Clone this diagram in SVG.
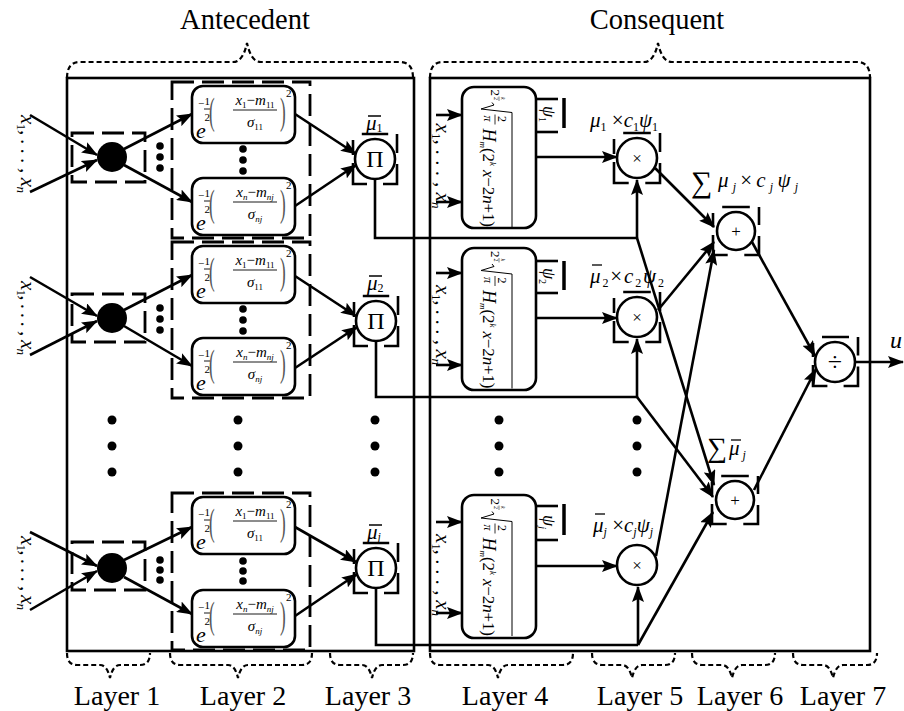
<svg xmlns="http://www.w3.org/2000/svg" width="904" height="711" viewBox="0 0 904 711">
<defs>
<style>
.ln{fill:none;stroke:#000;stroke-width:2.6}
.bx{fill:#fff;stroke:#000;stroke-width:2.6}
.dsh{fill:none;stroke:#000;stroke-width:2.8;stroke-dasharray:22 8}
.brace{fill:none;stroke:#000;stroke-width:2.2;stroke-dasharray:5 3}
.brk{fill:none;stroke:#000;stroke-width:2.6}
.fb{stroke:#000;stroke-width:0.9}
.t{font-family:"Liberation Serif","Times New Roman",serif;fill:#000}
.i{font-style:italic}
.n{font-style:normal}
.lab{font-size:28px}
.par{fill:#555}
</style>
<marker id="ah" viewBox="0 0 16 12" refX="15" refY="6" markerWidth="16" markerHeight="12" markerUnits="userSpaceOnUse" orient="auto"><path d="M0,0 L16,6 L0,12 L3,6 z" fill="#000"/></marker>
</defs>
<rect width="904" height="711" fill="#fff"/>

<g id="titles">
<text class="t" x="245" y="29" font-size="28.5" text-anchor="middle">Antecedent</text>
<text class="t" x="657" y="29" font-size="28.5" text-anchor="middle">Consequent</text>
<path class="brace" d="M67,78 Q67,62 80,62 H233 Q243,62 247,43 Q251,62 261,62 H400 Q413,62 413,78"/>
<path class="brace" d="M430,78 Q430,62 443,62 H644 Q654,62 658,43 Q662,62 672,62 H857 Q870,62 870,78"/>
</g>
<g id="layer-labels">
<path class="brace" d="M67,653 Q67,665 77,665 H100 Q107,665 110,678 Q113,665 120,665 H140 Q150,665 150,653"/>
<path class="brace" d="M170,653 Q170,665 180,665 H228 Q235,665 238,678 Q241,665 248,665 H302 Q312,665 312,653"/>
<path class="brace" d="M330,653 Q330,665 340,665 H362 Q369,665 372,678 Q375,665 382,665 H403 Q413,665 413,653"/>
<path class="brace" d="M430,653 Q430,665 440,665 H488 Q495,665 498,678 Q501,665 508,665 H563 Q573,665 573,653"/>
<path class="brace" d="M592,653 Q592,665 602,665 H622 Q629,665 632,678 Q635,665 642,665 H665 Q675,665 675,653"/>
<path class="brace" d="M692,653 Q692,665 702,665 H722 Q729,665 732,678 Q735,665 742,665 H765 Q775,665 775,653"/>
<path class="brace" d="M793,653 Q793,665 803,665 H823 Q830,665 833,678 Q836,665 843,665 H867 Q877,665 877,653"/>
<text class="t lab" x="117" y="705" text-anchor="middle">Layer 1</text>
<text class="t lab" x="243" y="705" text-anchor="middle">Layer 2</text>
<text class="t lab" x="368" y="705" text-anchor="middle">Layer 3</text>
<text class="t lab" x="505" y="705" text-anchor="middle">Layer 4</text>
<text class="t lab" x="640" y="705" text-anchor="middle">Layer 5</text>
<text class="t lab" x="740" y="705" text-anchor="middle">Layer 6</text>
<text class="t lab" x="843" y="705" text-anchor="middle">Layer 7</text>
</g>

<g id="antecedent-box"><rect x="67" y="78" width="347" height="573" class="ln"/></g>
<g id="consequent-box"><rect x="430" y="78" width="440" height="573" class="ln"/></g>

<g id="connectors" class="ln">
<line x1="30" y1="115" x2="97" y2="155" marker-end="url(#ah)"/>
<line x1="30" y1="192" x2="97" y2="160" marker-end="url(#ah)"/>
<line x1="30" y1="277" x2="97" y2="316" marker-end="url(#ah)"/>
<line x1="30" y1="355" x2="97" y2="321" marker-end="url(#ah)"/>
<line x1="30" y1="532" x2="97" y2="566" marker-end="url(#ah)"/>
<line x1="30" y1="610" x2="97" y2="571" marker-end="url(#ah)"/>
<line x1="124" y1="149" x2="192" y2="114" marker-end="url(#ah)"/>
<line x1="124" y1="165" x2="192" y2="202" marker-end="url(#ah)"/>
<line x1="124" y1="310" x2="192" y2="275" marker-end="url(#ah)"/>
<line x1="124" y1="326" x2="192" y2="366" marker-end="url(#ah)"/>
<line x1="124" y1="560" x2="192" y2="527" marker-end="url(#ah)"/>
<line x1="124" y1="577" x2="192" y2="614" marker-end="url(#ah)"/>
<line x1="295" y1="114" x2="356" y2="154" marker-end="url(#ah)"/>
<line x1="295" y1="206" x2="356" y2="165" marker-end="url(#ah)"/>
<line x1="295" y1="276" x2="356" y2="316" marker-end="url(#ah)"/>
<line x1="295" y1="368" x2="357" y2="327" marker-end="url(#ah)"/>
<line x1="295" y1="527" x2="356" y2="562" marker-end="url(#ah)"/>
<line x1="295" y1="616" x2="357" y2="574" marker-end="url(#ah)"/>
<polyline points="375,179 375,238 637,238"/>
<polyline points="376,341 376,397 637,397"/>
<polyline points="376,588 376,645 638,645"/>
<line x1="637" y1="238" x2="637" y2="180" marker-end="url(#ah)"/>
<line x1="637" y1="397" x2="637" y2="339" marker-end="url(#ah)"/>
<line x1="638" y1="645" x2="638" y2="587" marker-end="url(#ah)"/>
<line x1="637" y1="238" x2="714" y2="485" marker-end="url(#ah)"/>
<line x1="637" y1="397" x2="713" y2="497" marker-end="url(#ah)"/>
<line x1="638" y1="645" x2="713" y2="512" marker-end="url(#ah)"/>
<line x1="436" y1="115" x2="462" y2="115" marker-end="url(#ah)"/>
<line x1="436" y1="202" x2="462" y2="202" marker-end="url(#ah)"/>
<line x1="436" y1="273" x2="462" y2="273" marker-end="url(#ah)"/>
<line x1="436" y1="365" x2="462" y2="365" marker-end="url(#ah)"/>
<line x1="436" y1="522" x2="462" y2="522" marker-end="url(#ah)"/>
<line x1="436" y1="613" x2="462" y2="613" marker-end="url(#ah)"/>
<line x1="536" y1="157" x2="617" y2="157" marker-end="url(#ah)"/>
<line x1="536" y1="318" x2="617" y2="318" marker-end="url(#ah)"/>
<line x1="536" y1="566" x2="617" y2="566" marker-end="url(#ah)"/>
<line x1="655" y1="168" x2="714" y2="227" marker-end="url(#ah)"/>
<line x1="658" y1="310" x2="714" y2="242" marker-end="url(#ah)"/>
<line x1="656" y1="556" x2="714" y2="250" marker-end="url(#ah)"/>
<line x1="752" y1="242" x2="815" y2="356" marker-end="url(#ah)"/>
<line x1="754" y1="490" x2="816" y2="369" marker-end="url(#ah)"/>
<line x1="855" y1="362" x2="903" y2="362" marker-end="url(#ah)"/>
</g>

<g id="L1-1">
<rect x="72" y="133" width="73" height="49" class="dsh"/>
<circle cx="112" cy="157" r="15" fill="#000"/>
<circle cx="160" cy="146" r="3.8"/><circle cx="160" cy="157" r="3.8"/><circle cx="160" cy="168" r="3.8"/>
<text class="t i" transform="translate(21,154) rotate(90)" font-size="21" text-anchor="middle" textLength="78">x<tspan class="n" font-size="13" dy="4">1</tspan><tspan dy="-4">, . . . , x</tspan><tspan font-size="13" dy="4">n</tspan></text>
</g>
<g id="L1-2">
<rect x="72" y="294" width="73" height="48" class="dsh"/>
<circle cx="112" cy="318" r="15" fill="#000"/>
<circle cx="160" cy="308" r="3.8"/><circle cx="160" cy="319" r="3.8"/><circle cx="160" cy="330" r="3.8"/>
<text class="t i" transform="translate(21,318) rotate(90)" font-size="21" text-anchor="middle" textLength="74">x<tspan class="n" font-size="13" dy="4">1</tspan><tspan dy="-4">, . . . , x</tspan><tspan font-size="13" dy="4">n</tspan></text>
</g>
<g id="L1-j">
<rect x="72" y="542" width="73" height="48" class="dsh"/>
<circle cx="112" cy="568" r="15" fill="#000"/>
<circle cx="160" cy="560" r="3.8"/><circle cx="160" cy="570" r="3.8"/><circle cx="160" cy="580" r="3.8"/>
<text class="t i" transform="translate(21,573) rotate(90)" font-size="21" text-anchor="middle" textLength="74">x<tspan class="n" font-size="13" dy="4">1</tspan><tspan dy="-4">, . . . , x</tspan><tspan font-size="13" dy="4">n</tspan></text>
</g>

<g id="L2-group-1"><rect x="172" y="82" width="138" height="156" class="dsh"/>
<circle cx="243" cy="149" r="3.8"/><circle cx="243" cy="160" r="3.8"/><circle cx="243" cy="171" r="3.8"/></g>
<g id="L2-group-2"><rect x="172" y="242" width="138" height="156" class="dsh"/>
<circle cx="243" cy="309" r="3.8"/><circle cx="243" cy="320" r="3.8"/><circle cx="243" cy="331" r="3.8"/></g>
<g id="L2-group-j"><rect x="172" y="493" width="138" height="157" class="dsh"/>
<circle cx="243" cy="561" r="3.8"/><circle cx="243" cy="571" r="3.8"/><circle cx="243" cy="581" r="3.8"/></g>

<g id="mf-1-1" transform="translate(192,86)">
<rect width="103" height="57" rx="11" class="bx"/>
<text class="t i" x="4" y="52" font-size="22">e</text>
<text class="t" x="6" y="21" font-size="11">−</text>
<text class="t" x="12.5" y="19" font-size="11">1</text><line x1="12" y1="23" x2="18" y2="23" class="fb"/><text class="t" x="12.5" y="35" font-size="11">2</text>
<text class="t par" transform="translate(17,38) scale(0.45,1)" font-size="38">(</text>
<text class="t i" x="63" y="19" font-size="15" text-anchor="middle">x<tspan class="n" font-size="9" dy="3">1</tspan><tspan class="n" dy="-3">−</tspan>m<tspan class="n" font-size="9" dy="3">11</tspan></text>
<line x1="41" y1="24" x2="85" y2="24" class="fb"/>
<text class="t i" x="63" y="41" font-size="15" text-anchor="middle">σ<tspan class="n" font-size="9" dy="3">11</tspan></text>
<text class="t par" transform="translate(88,38) scale(0.45,1)" font-size="38">)</text>
<text class="t" x="94" y="11" font-size="11">2</text>
</g>
<g id="mf-1-n" transform="translate(192,178)">
<rect width="103" height="57" rx="11" class="bx"/>
<text class="t i" x="4" y="52" font-size="22">e</text>
<text class="t" x="6" y="21" font-size="11">−</text>
<text class="t" x="12.5" y="19" font-size="11">1</text><line x1="12" y1="23" x2="18" y2="23" class="fb"/><text class="t" x="12.5" y="35" font-size="11">2</text>
<text class="t par" transform="translate(17,38) scale(0.45,1)" font-size="38">(</text>
<text class="t i" x="63" y="19" font-size="15" text-anchor="middle">x<tspan font-size="9" dy="3">n</tspan><tspan class="n" dy="-3">−</tspan>m<tspan font-size="9" dy="3">nj</tspan></text>
<line x1="41" y1="24" x2="85" y2="24" class="fb"/>
<text class="t i" x="63" y="41" font-size="15" text-anchor="middle">σ<tspan font-size="9" dy="3">nj</tspan></text>
<text class="t par" transform="translate(88,38) scale(0.45,1)" font-size="38">)</text>
<text class="t" x="94" y="11" font-size="11">2</text>
</g>
<g id="mf-2-1" transform="translate(192,246)">
<rect width="103" height="57" rx="11" class="bx"/>
<text class="t i" x="4" y="52" font-size="22">e</text>
<text class="t" x="6" y="21" font-size="11">−</text>
<text class="t" x="12.5" y="19" font-size="11">1</text><line x1="12" y1="23" x2="18" y2="23" class="fb"/><text class="t" x="12.5" y="35" font-size="11">2</text>
<text class="t par" transform="translate(17,38) scale(0.45,1)" font-size="38">(</text>
<text class="t i" x="63" y="19" font-size="15" text-anchor="middle">x<tspan class="n" font-size="9" dy="3">1</tspan><tspan class="n" dy="-3">−</tspan>m<tspan class="n" font-size="9" dy="3">11</tspan></text>
<line x1="41" y1="24" x2="85" y2="24" class="fb"/>
<text class="t i" x="63" y="41" font-size="15" text-anchor="middle">σ<tspan class="n" font-size="9" dy="3">11</tspan></text>
<text class="t par" transform="translate(88,38) scale(0.45,1)" font-size="38">)</text>
<text class="t" x="94" y="11" font-size="11">2</text>
</g>
<g id="mf-2-n" transform="translate(192,338)">
<rect width="103" height="57" rx="11" class="bx"/>
<text class="t i" x="4" y="52" font-size="22">e</text>
<text class="t" x="6" y="21" font-size="11">−</text>
<text class="t" x="12.5" y="19" font-size="11">1</text><line x1="12" y1="23" x2="18" y2="23" class="fb"/><text class="t" x="12.5" y="35" font-size="11">2</text>
<text class="t par" transform="translate(17,38) scale(0.45,1)" font-size="38">(</text>
<text class="t i" x="63" y="19" font-size="15" text-anchor="middle">x<tspan font-size="9" dy="3">n</tspan><tspan class="n" dy="-3">−</tspan>m<tspan font-size="9" dy="3">nj</tspan></text>
<line x1="41" y1="24" x2="85" y2="24" class="fb"/>
<text class="t i" x="63" y="41" font-size="15" text-anchor="middle">σ<tspan font-size="9" dy="3">nj</tspan></text>
<text class="t par" transform="translate(88,38) scale(0.45,1)" font-size="38">)</text>
<text class="t" x="94" y="11" font-size="11">2</text>
</g>
<g id="mf-j-1" transform="translate(192,497)">
<rect width="103" height="57" rx="11" class="bx"/>
<text class="t i" x="4" y="52" font-size="22">e</text>
<text class="t" x="6" y="21" font-size="11">−</text>
<text class="t" x="12.5" y="19" font-size="11">1</text><line x1="12" y1="23" x2="18" y2="23" class="fb"/><text class="t" x="12.5" y="35" font-size="11">2</text>
<text class="t par" transform="translate(17,38) scale(0.45,1)" font-size="38">(</text>
<text class="t i" x="63" y="19" font-size="15" text-anchor="middle">x<tspan class="n" font-size="9" dy="3">1</tspan><tspan class="n" dy="-3">−</tspan>m<tspan class="n" font-size="9" dy="3">11</tspan></text>
<line x1="41" y1="24" x2="85" y2="24" class="fb"/>
<text class="t i" x="63" y="41" font-size="15" text-anchor="middle">σ<tspan class="n" font-size="9" dy="3">11</tspan></text>
<text class="t par" transform="translate(88,38) scale(0.45,1)" font-size="38">)</text>
<text class="t" x="94" y="11" font-size="11">2</text>
</g>
<g id="mf-j-n" transform="translate(192,590)">
<rect width="103" height="57" rx="11" class="bx"/>
<text class="t i" x="4" y="52" font-size="22">e</text>
<text class="t" x="6" y="21" font-size="11">−</text>
<text class="t" x="12.5" y="19" font-size="11">1</text><line x1="12" y1="23" x2="18" y2="23" class="fb"/><text class="t" x="12.5" y="35" font-size="11">2</text>
<text class="t par" transform="translate(17,38) scale(0.45,1)" font-size="38">(</text>
<text class="t i" x="63" y="19" font-size="15" text-anchor="middle">x<tspan font-size="9" dy="3">n</tspan><tspan class="n" dy="-3">−</tspan>m<tspan font-size="9" dy="3">nj</tspan></text>
<line x1="41" y1="24" x2="85" y2="24" class="fb"/>
<text class="t i" x="63" y="41" font-size="15" text-anchor="middle">σ<tspan font-size="9" dy="3">nj</tspan></text>
<text class="t par" transform="translate(88,38) scale(0.45,1)" font-size="38">)</text>
<text class="t" x="94" y="11" font-size="11">2</text>
</g>

<g id="pi-1">
<path class="brk" d="M361.8,134 H388.2 M353,140 V155 M353,163 V184 H367 M397,134 V153 M397,164 V184 H383"/>
<circle cx="375" cy="159" r="20" class="bx"/>
<text class="t" x="375" y="167" font-size="24" text-anchor="middle">Π</text>
<line x1="368" y1="116" x2="381" y2="116" stroke="#000" stroke-width="1.5"/>
<text class="t i" x="366" y="130" font-size="21">μ<tspan class="n" font-size="12" dy="2">1</tspan></text>
</g>
<g id="pi-2">
<path class="brk" d="M362.8,296 H389.2 M354,302 V317 M354,325 V346 H368 M398,296 V315 M398,326 V346 H384"/>
<circle cx="376" cy="321" r="20" class="bx"/>
<text class="t" x="376" y="329" font-size="24" text-anchor="middle">Π</text>
<line x1="369" y1="276" x2="382" y2="276" stroke="#000" stroke-width="1.5"/>
<text class="t i" x="367" y="290" font-size="21">μ<tspan class="n" font-size="12" dy="2">2</tspan></text>
</g>
<g id="pi-j">
<path class="brk" d="M362.8,543 H389.2 M354,549 V564 M354,572 V593 H368 M398,543 V562 M398,573 V593 H384"/>
<circle cx="376" cy="568" r="20" class="bx"/>
<text class="t" x="376" y="576" font-size="24" text-anchor="middle">Π</text>
<line x1="369" y1="525" x2="382" y2="525" stroke="#000" stroke-width="1.5"/>
<text class="t i" x="367" y="539" font-size="21">μ<tspan font-size="12" dy="2">j</tspan></text>
</g>

<g id="ellipsis">
<circle cx="112" cy="420" r="4.5"/><circle cx="112" cy="446" r="4.5"/><circle cx="112" cy="472" r="4.5"/>
<circle cx="238" cy="420" r="4.5"/><circle cx="238" cy="446" r="4.5"/><circle cx="238" cy="472" r="4.5"/>
<circle cx="375" cy="420" r="4.5"/><circle cx="375" cy="446" r="4.5"/><circle cx="375" cy="472" r="4.5"/>
<circle cx="499" cy="420" r="4.5"/><circle cx="499" cy="446" r="4.5"/><circle cx="499" cy="472" r="4.5"/>
<circle cx="637" cy="420" r="4.5"/><circle cx="637" cy="446" r="4.5"/><circle cx="637" cy="472" r="4.5"/>
</g>

<g id="wav-1">
<rect x="462" y="87" width="74" height="141" rx="12" class="bx"/>
<g transform="translate(499,157.5) rotate(90)">
<text class="t" x="-68" y="8" font-size="13">2</text>
<text class="t i" x="-60.5" y="-1.5" font-size="6">k</text><line x1="-61" y1="0" x2="-56.5" y2="0" stroke="#000" stroke-width="0.5"/><text class="t" x="-60.5" y="5" font-size="6">2</text>
<path d="M-55,7 L-52.5,5 L-48.5,18 L-45,-13 H69.5" fill="none" stroke="#000" stroke-width="1"/>
<text class="t" x="-41.5" y="1" font-size="12">2</text><line x1="-43" y1="4" x2="-33" y2="4" stroke="#000" stroke-width="0.8"/><text class="t i" x="-42" y="15" font-size="12">π</text>
<text class="t i" x="-29" y="16" font-size="18">H<tspan font-size="9" dy="3">m</tspan></text>
<text class="t" x="-9.5" y="16" font-size="17" textLength="79">(2<tspan class="i" font-size="9" dy="-7">k</tspan><tspan class="i" dy="7"> x</tspan>−2<tspan class="i">n</tspan>+1)</text>
</g>
<line x1="536" y1="99" x2="558" y2="99" class="ln"/><line x1="536" y1="132" x2="558" y2="132" class="ln"/><line x1="564" y1="98" x2="564" y2="128" stroke="#000" stroke-width="3.5"/>
<text class="t i" transform="translate(543,114) rotate(90)" font-size="18" text-anchor="middle">ψ<tspan class="n" font-size="10" dy="4">1</tspan></text>
<text class="t i" transform="translate(436,166) rotate(90)" font-size="21" text-anchor="middle" textLength="85">x<tspan class="n" font-size="13" dy="4">1</tspan><tspan dy="-4">, . . . , x</tspan><tspan font-size="13" dy="4">n</tspan></text>
</g>
<g id="wav-2">
<rect x="462" y="248" width="74" height="142" rx="12" class="bx"/>
<g transform="translate(499,319) rotate(90)">
<text class="t" x="-68" y="8" font-size="13">2</text>
<text class="t i" x="-60.5" y="-1.5" font-size="6">k</text><line x1="-61" y1="0" x2="-56.5" y2="0" stroke="#000" stroke-width="0.5"/><text class="t" x="-60.5" y="5" font-size="6">2</text>
<path d="M-55,7 L-52.5,5 L-48.5,18 L-45,-13 H69.5" fill="none" stroke="#000" stroke-width="1"/>
<text class="t" x="-41.5" y="1" font-size="12">2</text><line x1="-43" y1="4" x2="-33" y2="4" stroke="#000" stroke-width="0.8"/><text class="t i" x="-42" y="15" font-size="12">π</text>
<text class="t i" x="-29" y="16" font-size="18">H<tspan font-size="9" dy="3">m</tspan></text>
<text class="t" x="-9.5" y="16" font-size="17" textLength="79">(2<tspan class="i" font-size="9" dy="-7">k</tspan><tspan class="i" dy="7"> x</tspan>−2<tspan class="i">n</tspan>+1)</text>
</g>
<line x1="536" y1="261" x2="558" y2="261" class="ln"/><line x1="536" y1="293" x2="558" y2="293" class="ln"/><line x1="564" y1="261" x2="564" y2="290" stroke="#000" stroke-width="3.5"/>
<text class="t i" transform="translate(543,276) rotate(90)" font-size="18" text-anchor="middle">ψ<tspan class="n" font-size="10" dy="4">2</tspan></text>
<text class="t i" transform="translate(436,325) rotate(90)" font-size="21" text-anchor="middle" textLength="80">x<tspan class="n" font-size="13" dy="4">1</tspan><tspan dy="-4">, . . . , x</tspan><tspan font-size="13" dy="4">n</tspan></text>
</g>
<g id="wav-j">
<rect x="462" y="495" width="74" height="143" rx="12" class="bx"/>
<g transform="translate(499,566.5) rotate(90)">
<text class="t" x="-68" y="8" font-size="13">2</text>
<text class="t i" x="-60.5" y="-1.5" font-size="6">k</text><line x1="-61" y1="0" x2="-56.5" y2="0" stroke="#000" stroke-width="0.5"/><text class="t" x="-60.5" y="5" font-size="6">2</text>
<path d="M-55,7 L-52.5,5 L-48.5,18 L-45,-13 H69.5" fill="none" stroke="#000" stroke-width="1"/>
<text class="t" x="-41.5" y="1" font-size="12">2</text><line x1="-43" y1="4" x2="-33" y2="4" stroke="#000" stroke-width="0.8"/><text class="t i" x="-42" y="15" font-size="12">π</text>
<text class="t i" x="-29" y="16" font-size="18">H<tspan font-size="9" dy="3">m</tspan></text>
<text class="t" x="-9.5" y="16" font-size="17" textLength="79">(2<tspan class="i" font-size="9" dy="-7">k</tspan><tspan class="i" dy="7"> x</tspan>−2<tspan class="i">n</tspan>+1)</text>
</g>
<line x1="536" y1="506" x2="558" y2="506" class="ln"/><line x1="536" y1="540" x2="558" y2="540" class="ln"/><line x1="564" y1="504" x2="564" y2="535" stroke="#000" stroke-width="3.5"/>
<text class="t i" transform="translate(543,522) rotate(90)" font-size="18" text-anchor="middle">ψ<tspan font-size="10" dy="4">j</tspan></text>
<text class="t i" transform="translate(436,575) rotate(90)" font-size="21" text-anchor="middle" textLength="82">x<tspan class="n" font-size="13" dy="4">1</tspan><tspan dy="-4">, . . . , x</tspan><tspan font-size="13" dy="4">n</tspan></text>
</g>

<g id="mul-1">
<path class="brk" d="M623.2,133 H650.8 M614,139 V154 M614,162 V183 H628.7 M660,133 V152 M660,163 V183 H645.3"/>
<circle cx="637" cy="158" r="20" class="bx"/>
<text class="t" x="637" y="164" font-size="17" text-anchor="middle" fill="#333">×</text>
<text class="t i" x="590" y="127" font-size="21">μ<tspan class="n" font-size="12" dy="4">1</tspan><tspan class="n" dy="-4"> ×</tspan>c<tspan class="n" font-size="12" dy="4">1</tspan><tspan dy="-4">ψ</tspan><tspan class="n" font-size="12" dy="4">1</tspan></text>
</g>
<g id="mul-2">
<path class="brk" d="M623.2,292 H650.8 M614,298 V313 M614,321 V342 H628.7 M660,292 V311 M660,322 V342 H645.3"/>
<circle cx="637" cy="317" r="20" class="bx"/>
<text class="t" x="637" y="323" font-size="17" text-anchor="middle" fill="#333">×</text>
<line x1="592" y1="265" x2="602" y2="265" stroke="#000" stroke-width="1.3"/>
<text class="t i" x="590" y="283" font-size="21" textLength="74">μ<tspan class="n" font-size="12" dy="4">2</tspan><tspan class="n" dy="-4">×</tspan>c<tspan class="n" font-size="12" dy="4">2</tspan><tspan dy="-4">ψ</tspan><tspan class="n" font-size="12" dy="4">2</tspan></text>
</g>
<g id="mul-j">
<circle cx="637" cy="565" r="20" class="bx"/>
<text class="t" x="637" y="571" font-size="17" text-anchor="middle" fill="#333">×</text>
<line x1="595" y1="514" x2="605" y2="514" stroke="#000" stroke-width="1.3"/>
<text class="t i" x="593" y="532" font-size="21">μ<tspan font-size="12" dy="4">j</tspan><tspan class="n" dy="-4"> ×</tspan>c<tspan font-size="12" dy="4">j</tspan><tspan dy="-4">ψ</tspan><tspan font-size="12" dy="4">j</tspan></text>
</g>

<g id="sum-num">
<path class="brk" d="M722.2,207 H749.8 M713,213 V227 M713,235 V255 H727.7 M759,207 V225 M759,236 V255 H744.3"/>
<circle cx="736" cy="231" r="19" class="bx"/>
<text class="t" x="736" y="237" font-size="17" text-anchor="middle">+</text>
<text class="t" x="691" y="192" font-size="30">∑</text>
<text class="t i" x="718" y="187" font-size="21" textLength="80">μ<tspan font-size="12" dy="4">j</tspan><tspan class="n" dy="-4">×</tspan>c<tspan font-size="12" dy="4">j</tspan><tspan dy="-4">ψ</tspan><tspan font-size="12" dy="4">j</tspan></text>
</g>
<g id="sum-den">
<path class="brk" d="M721.2,476 H748.8 M712,482 V496 M712,504 V524 H726.7 M758,476 V494 M758,505 V524 H743.3"/>
<circle cx="735" cy="500" r="19" class="bx"/>
<text class="t" x="735" y="506" font-size="17" text-anchor="middle">+</text>
<text class="t" x="707" y="457" font-size="28">∑</text>
<line x1="731" y1="440" x2="741" y2="440" stroke="#000" stroke-width="1.3"/>
<text class="t i" x="729" y="455" font-size="21">μ<tspan font-size="12" dy="4"> j</tspan></text>
</g>

<g id="div">
<path class="brk" d="M822,337 H849 M813,343 V357 M813,365 V386 H827.4 M858,337 V355.6 M858,366.4 V386 H843.6"/>
<circle cx="835" cy="362" r="20" class="bx"/>
<text class="t" x="835" y="371" font-size="26" text-anchor="middle">÷</text>
<text class="t i" x="890" y="348" font-size="24">u</text>
</g>
</svg>
